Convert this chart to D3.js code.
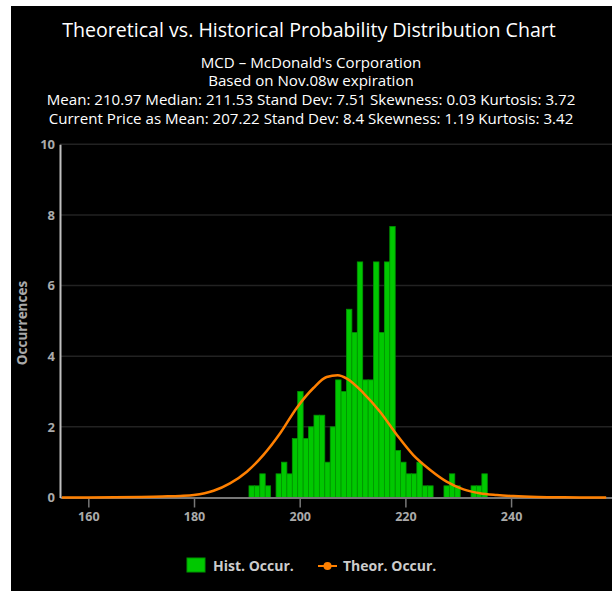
<!DOCTYPE html>
<html>
<head>
<meta charset="utf-8">
<script src="https://cdn.jsdelivr.net/npm/d3@7"></script>
<style>
    html, body { margin: 0; padding: 0; background: #fff; }
    svg { display: block; }
    text { font-family: "Open Sans", "DejaVu Sans", sans-serif; }
</style>
</head>
<body>
<div id="chart"></div>
<script>
// chart texts
const titleText = 'Theoretical vs. Historical Probability Distribution Chart';
const subtitleLines = [
    'MCD \u2013 McDonald\'s Corporation',
    'Based on Nov.08w expiration',
    'Mean: 210.97 Median: 211.53 Stand Dev: 7.51 Skewness: 0.03 Kurtosis: 3.72',
    'Current Price as Mean: 207.22 Stand Dev: 8.4 Skewness: 1.19 Kurtosis: 3.42'
];

// histogram: first bin edge, bin width, occurrences per bin
const binStart = 190.4;
const binWidth = 1.025;
const histCounts = [
    0.33, 0.33, 0.67, 0.33, 0, 0.67, 1, 0.67, 1.67, 3,
    1.67, 2, 2.33, 2.33, 1, 2, 3.33, 3, 5.33, 4.67,
    6.67, 3.33, 3.33, 6.67, 4.67, 6.67, 7.67, 1.33, 1, 0.67,
    0.67, 1, 0.33, 0.33, 0, 0, 0.33, 0.67, 0.33, 0,
    0, 0.33, 0.33, 0.67
];

// theoretical curve
const theorX = [155, 160, 165, 170, 174, 177.4, 180, 183.7, 186.8, 190, 193.1, 196.3, 199.4,
    202.6, 205.1, 207.2, 209, 212.1, 215.2, 218.4, 221.5, 224.7, 227.8, 231, 234.1, 237.3,
    240.4, 245, 250, 258];
const theorY = [0, 0, 0.005, 0.015, 0.03, 0.045, 0.07, 0.19, 0.4, 0.73, 1.2, 1.82, 2.53,
    3.1, 3.41, 3.46, 3.36, 2.95, 2.43, 1.77, 1.2, 0.78, 0.45, 0.23, 0.12, 0.07,
    0.04, 0.015, 0.005, 0];

// axes
const xDomain = [154.64, 259.1];
const xTicks = [160, 180, 200, 220, 240];
const yDomain = [0, 10];
const yTicks = [0, 2, 4, 6, 8, 10];

const legendItems = ['Hist. Occur.', 'Theor. Occur.'];

const W = 612, H = 591;
const plot = { left: 60, right: 612, top: 144.3, bottom: 497.5 };

document.addEventListener('DOMContentLoaded', drawChart);

function drawChart() {
    const svg = d3.select('#chart').append('svg')
        .attr('width', W)
        .attr('height', H);

    // black chart background
    svg.append('rect')
        .attr('x', 11).attr('y', 6)
        .attr('width', W - 11).attr('height', H - 6)
        .attr('fill', '#000');

    // title + subtitle
    svg.append('text')
        .attr('x', 309).attr('y', 37)
        .attr('text-anchor', 'middle')
        .attr('fill', '#fff')
        .style('font-size', '19.6px')
        .text(titleText);

    svg.selectAll('.subtitle')
        .data(subtitleLines)
        .enter()
        .append('text')
        .attr('class', 'subtitle')
        .attr('x', 311)
        .attr('y', (d, i) => 67.5 + i * 18.7)
        .attr('text-anchor', 'middle')
        .attr('fill', '#fff')
        .style('font-size', '15.1px')
        .text(d => d);

    const x = d3.scaleLinear().domain(xDomain).range([plot.left, plot.right]);
    const y = d3.scaleLinear().domain(yDomain).range([plot.bottom, plot.top]);

    // grid lines
    svg.append('g')
        .selectAll('line')
        .data(yTicks.filter(d => d > 0))
        .enter()
        .append('line')
        .attr('x1', plot.left).attr('x2', plot.right)
        .attr('y1', d => y(d)).attr('y2', d => y(d))
        .attr('stroke', '#222')
        .attr('stroke-width', 1.5);

    // histogram bars
    svg.append('g')
        .selectAll('rect')
        .data(histCounts)
        .enter()
        .append('rect')
        .attr('x', (d, i) => x(binStart + i * binWidth))
        .attr('width', (d, i) => x(binStart + (i + 1) * binWidth) - x(binStart + i * binWidth))
        .attr('y', d => y(d))
        .attr('height', d => y(0) - y(d))
        .attr('fill', '#00c800')
        .attr('stroke', '#009600')
        .attr('stroke-width', 0.8);

    // x axis
    const xAxis = svg.append('g')
        .attr('transform', `translate(0,${plot.bottom})`)
        .call(d3.axisBottom(x).tickValues(xTicks).tickSize(10).tickPadding(5).tickSizeOuter(0));
    xAxis.select('.domain').attr('stroke', '#777').attr('stroke-width', 2);
    xAxis.selectAll('.tick line').attr('stroke', '#777').attr('stroke-width', 1.5);
    xAxis.selectAll('.tick text')
        .attr('fill', '#aaa')
        .style('font-size', '12.5px')
        .style('font-weight', 'bold');

    // theoretical curve
    const line = d3.line()
        .x(d => x(d[0]))
        .y(d => y(d[1]))
        .curve(d3.curveMonotoneX);
    svg.append('path')
        .datum(d3.zip(theorX, theorY))
        .attr('d', line)
        .attr('fill', 'none')
        .attr('stroke', '#ff8000')
        .attr('stroke-width', 2.5);

    // y axis
    const yAxis = svg.append('g')
        .attr('transform', `translate(${plot.left},0)`)
        .call(d3.axisLeft(y).tickValues(yTicks).tickSize(0).tickPadding(5));
    yAxis.select('.domain').attr('stroke', '#c0c0c0').attr('stroke-width', 2);
    yAxis.selectAll('.tick text')
        .attr('fill', '#aaa')
        .style('font-size', '13px')
        .style('font-weight', 'bold');

    svg.append('text')
        .attr('transform', 'translate(27,323) rotate(-90)')
        .attr('text-anchor', 'middle')
        .attr('fill', '#aaa')
        .style('font-size', '13.5px')
        .style('font-weight', 'bold')
        .text('Occurrences');

    // legend
    const lg = svg.append('g');
    lg.append('rect')
        .attr('x', 187).attr('y', 558)
        .attr('width', 18).attr('height', 14)
        .attr('fill', '#00c800')
        .attr('stroke', '#009600');
    lg.append('text')
        .attr('x', 213).attr('y', 571)
        .attr('fill', '#ccc')
        .style('font-size', '14px')
        .style('font-weight', 'bold')
        .text(legendItems[0]);
    lg.append('line')
        .attr('x1', 318).attr('x2', 337)
        .attr('y1', 566).attr('y2', 566)
        .attr('stroke', '#ff8000')
        .attr('stroke-width', 2);
    lg.append('circle')
        .attr('cx', 327.5).attr('cy', 566)
        .attr('r', 4)
        .attr('fill', '#ff8000');
    lg.append('text')
        .attr('x', 343).attr('y', 571)
        .attr('fill', '#ccc')
        .style('font-size', '14px')
        .style('font-weight', 'bold')
        .text(legendItems[1]);
}
</script>
</body>
</html>
